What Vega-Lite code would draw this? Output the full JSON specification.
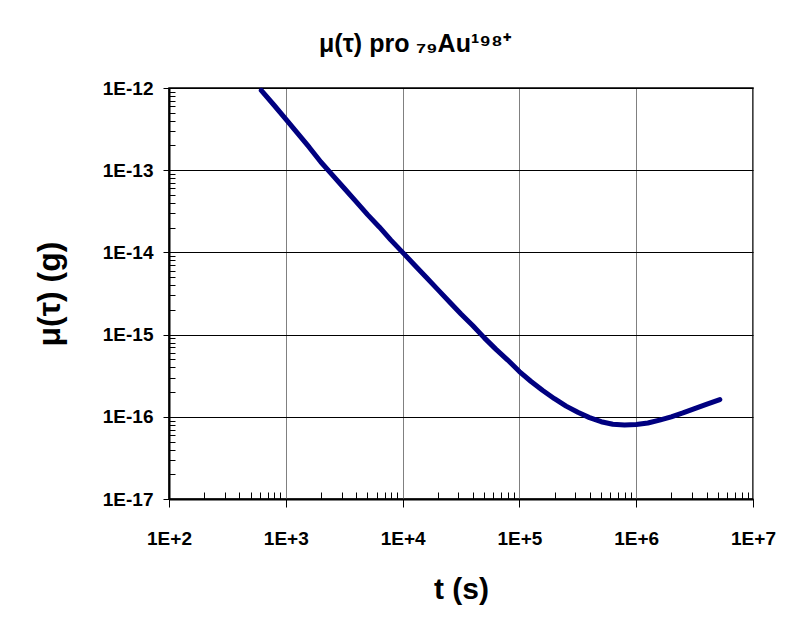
{
  "$schema": "https://vega.github.io/schema/vega-lite/v6.json",
  "width": 584,
  "height": 411,
  "autosize": {"type": "none"},
  "padding": {"left": 169, "top": 88, "right": 50, "bottom": 122},
  "background": "white",
  "config": {"view": {"stroke": "#000", "strokeWidth": 1.5}, "font": "Liberation Sans"},
  "title": {"text": "μ(τ) pro ₇₉Au¹⁹⁸⁺", "fontSize": 25, "font": "Liberation Sans", "fontWeight": "bold", "dx": -46, "offset": 22, "anchor": "middle", "color": "#000"},
  "data": {"values": [
    {"t": 616.6, "mu": 9.33e-13},
    {"t": 794.3, "mu": 6.17e-13},
    {"t": 1000, "mu": 4.17e-13},
    {"t": 1258.9, "mu": 2.82e-13},
    {"t": 1584.9, "mu": 1.905e-13},
    {"t": 1995.3, "mu": 1.259e-13},
    {"t": 2511.9, "mu": 8.71e-14},
    {"t": 3162.3, "mu": 6.03e-14},
    {"t": 3981.1, "mu": 4.17e-14},
    {"t": 5011.9, "mu": 2.88e-14},
    {"t": 6309.6, "mu": 2.04e-14},
    {"t": 7943.3, "mu": 1.41e-14},
    {"t": 10000, "mu": 1.0e-14},
    {"t": 12589, "mu": 7.08e-15},
    {"t": 15849, "mu": 5.01e-15},
    {"t": 19953, "mu": 3.55e-15},
    {"t": 25119, "mu": 2.51e-15},
    {"t": 31623, "mu": 1.78e-15},
    {"t": 39811, "mu": 1.29e-15},
    {"t": 50119, "mu": 9.12e-16},
    {"t": 63096, "mu": 6.61e-16},
    {"t": 79433, "mu": 4.90e-16},
    {"t": 100000, "mu": 3.55e-16},
    {"t": 125893, "mu": 2.69e-16},
    {"t": 158489, "mu": 2.09e-16},
    {"t": 199526, "mu": 1.66e-16},
    {"t": 251189, "mu": 1.35e-16},
    {"t": 316228, "mu": 1.135e-16},
    {"t": 398107, "mu": 9.77e-17},
    {"t": 501187, "mu": 8.71e-17},
    {"t": 630957, "mu": 8.13e-17},
    {"t": 794328, "mu": 7.94e-17},
    {"t": 1000000, "mu": 8.04e-17},
    {"t": 1258925, "mu": 8.41e-17},
    {"t": 1584893, "mu": 9.12e-17},
    {"t": 1995262, "mu": 1.0e-16},
    {"t": 2511886, "mu": 1.117e-16},
    {"t": 3162278, "mu": 1.26e-16},
    {"t": 3981072, "mu": 1.42e-16},
    {"t": 5200000, "mu": 1.62e-16}
  ]},
  "layer": [
    {
      "mark": {"type": "line", "strokeOpacity": 0},
      "encoding": {
        "x": {"field": "t", "type": "quantitative", "scale": {"type": "log", "domain": [100, 10000000], "nice": false},
          "axis": {"orient": "bottom", "values": [200,300,400,500,600,700,800,900,2000,3000,4000,5000,6000,7000,8000,9000,20000,30000,40000,50000,60000,70000,80000,90000,200000,300000,400000,500000,600000,700000,800000,900000,2000000,3000000,4000000,5000000,6000000,7000000,8000000,9000000],
            "labels": false, "grid": false, "domain": false, "tickSize": -7, "tickColor": "#000", "tickWidth": 1, "title": null}},
        "y": {"field": "mu", "type": "quantitative", "scale": {"type": "log", "domain": [1e-17, 1e-12], "nice": false},
          "axis": {"orient": "left", "values": [2e-17,3e-17,4e-17,5e-17,6e-17,7e-17,8e-17,9e-17,2e-16,3e-16,4e-16,5e-16,6e-16,7e-16,8e-16,9e-16,2e-15,3e-15,4e-15,5e-15,6e-15,7e-15,8e-15,9e-15,2e-14,3e-14,4e-14,5e-14,6e-14,7e-14,8e-14,9e-14,2e-13,3e-13,4e-13,5e-13,6e-13,7e-13,8e-13,9e-13],
            "labels": false, "grid": false, "domain": false, "tickSize": -6, "tickColor": "#000", "tickWidth": 1, "title": null}}
      }
    },
    {
      "mark": {"type": "line", "color": "#000080", "strokeWidth": 5, "strokeCap": "round", "strokeJoin": "round"},
      "encoding": {
        "x": {"field": "t", "type": "quantitative", "scale": {"type": "log", "domain": [100, 10000000], "nice": false},
          "axis": {"orient": "bottom", "values": [100, 1000, 10000, 100000, 1000000, 10000000],
            "labelExpr": "'1E+' + round(log(datum.value)/LN10)",
            "grid": true, "gridColor": "#808080", "gridWidth": 1, "tickSize": 8, "tickColor": "#000", "tickWidth": 1,
            "domainColor": "#000", "domainWidth": 2, "labelFont": "Liberation Sans", "labelFontSize": 19, "labelFontWeight": "bold",
            "labelColor": "#000", "labelPadding": 22, "labelFlush": false, "labelOverlap": false, "labelBound": false,
            "title": "t (s)", "titleFont": "Liberation Sans", "titleFontSize": 30, "titleFontWeight": "bold", "titleColor": "#000", "titlePadding": 26}},
        "y": {"field": "mu", "type": "quantitative", "scale": {"type": "log", "domain": [1e-17, 1e-12], "nice": false},
          "axis": {"orient": "left", "values": [1e-17, 1e-16, 1e-15, 1e-14, 1e-13, 1e-12],
            "labelExpr": "'1E' + round(log(datum.value)/LN10)",
            "grid": true, "gridColor": "#000", "gridWidth": 1, "tickSize": 6, "tickColor": "#000", "tickWidth": 1,
            "domainColor": "#000", "domainWidth": 2, "labelFont": "Liberation Sans", "labelFontSize": 19, "labelFontWeight": "bold",
            "labelColor": "#000", "labelPadding": 10, "labelFlush": false, "labelOverlap": false, "labelBound": false,
            "title": "μ(τ)  (g)", "titleFont": "Liberation Sans", "titleFontSize": 32, "titleFontWeight": "bold", "titleColor": "#000", "titlePadding": 36}}
      }
    }
  ],
  "resolve": {"axis": {"x": "independent", "y": "independent"}}
}
